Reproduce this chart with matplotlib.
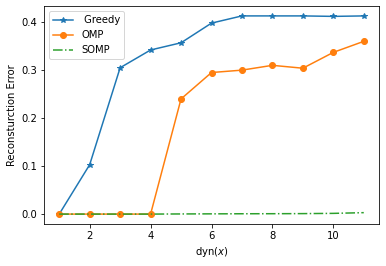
import numpy as np
import matplotlib
matplotlib.use("Agg")
import matplotlib.pyplot as plt

dyn = [1, 2, 3, 4, 5, 6, 7, 8, 9, 10, 11]
greedy = [0.0, 0.103, 0.305, 0.342, 0.357, 0.398, 0.413, 0.413, 0.413, 0.412, 0.413]
omp = [0.0, 0.0, 0.0, 0.0, 0.240, 0.295, 0.300, 0.310, 0.304, 0.337, 0.360]
somp = [0.0, 0.0, 0.0, 0.0, 0.0003, 0.0005, 0.0007, 0.0008, 0.001, 0.0015, 0.003]

fig, ax = plt.subplots(figsize=(386 / 72, 266 / 72), dpi=72)
ax.plot(dyn, greedy, marker='*', label=' Greedy')
ax.plot(dyn, omp, marker='o', label='OMP')
ax.plot(dyn, somp, linestyle='-.', label='SOMP')
ax.set_xlabel('dyn($x$)')
ax.set_ylabel('Reconsturction Error')
ax.legend(loc='upper left')
fig.subplots_adjust(left=44 / 386, right=379 / 386, top=1 - 6 / 266, bottom=1 - 224 / 266)
plt.savefig('out.png', dpi=72)
plt.close()
